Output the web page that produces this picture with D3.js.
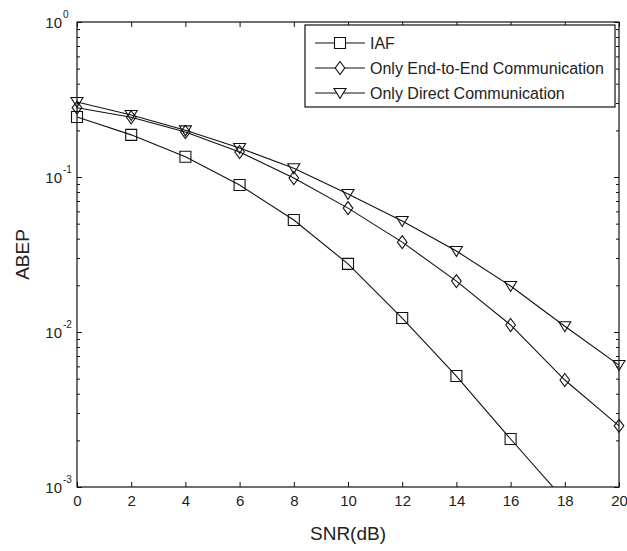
<!DOCTYPE html>
<html>
<head>
<meta charset="utf-8">
<script src="https://cdn.jsdelivr.net/npm/d3@7"></script>
<style>
  body { margin: 0; background: #fff; }
  text { font-family: "Liberation Sans", Arial, sans-serif; fill: #222; }
</style>
</head>
<body>
<div class="chart"></div>
<script>
// ABEP vs SNR, log scale, matlab-ish look

var w = 627, h = 551;

var snr = [0, 2, 4, 6, 8, 10, 12, 14, 16, 18, 20];
var iaf = [0.244, 0.187, 0.135, 0.0888, 0.0528, 0.0275, 0.0123, 0.0052, 0.00204, 0.00082, 0.0003];
var endToEnd = [0.28, 0.243, 0.195, 0.145, 0.0985, 0.063, 0.038, 0.0213, 0.0111, 0.0049, 0.00248];
var direct = [0.305, 0.251, 0.2, 0.154, 0.114, 0.0777, 0.052, 0.0333, 0.0198, 0.0109, 0.00612];
var seriesNames = ['IAF', 'Only End-to-End Communication', 'Only Direct Communication'];
var seriesMarks = ['square', 'diamond', 'triangle'];
var xTicks = [0, 2, 4, 6, 8, 10, 12, 14, 16, 18, 20];
var yDecades = [-3, -2, -1, 0];

var series = [iaf, endToEnd, direct];

var m = {left: 77, right: 619, top: 22, bottom: 487};

var x = d3.scaleLinear().domain([0, 20]).range([m.left, m.right]);
var y = d3.scaleLog().domain([1e-3, 1]).range([m.bottom, m.top]);

var svg = d3.select('.chart').append('svg')
  .attr('width', w)
  .attr('height', h);

svg.append('defs').append('clipPath').attr('id', 'plotclip')
  .append('rect')
  .attr('x', m.left).attr('y', m.top)
  .attr('width', m.right - m.left).attr('height', m.bottom - m.top);

// minor + major y ticks
var yMinor = [];
yDecades.slice(0, 3).forEach(function(d) {
  for (var k = 2; k < 10; k++) yMinor.push(k * Math.pow(10, d));
});
var yMajor = yDecades.map(function(d) { return Math.pow(10, d); });

function yAxisTicks(side) {
  var ax = side === 'left' ? d3.axisLeft(y) : d3.axisRight(y);
  var xpos = side === 'left' ? m.left : m.right;
  svg.append('g').attr('transform', 'translate(' + xpos + ',0)')
    .call(ax.tickValues(yMinor).tickSize(-3).tickSizeOuter(0).tickFormat(''))
    .call(function(g) { g.select('.domain').remove(); });
  svg.append('g').attr('transform', 'translate(' + xpos + ',0)')
    .call(ax.tickValues(yMajor).tickSize(-5).tickSizeOuter(0).tickFormat(''))
    .call(function(g) { g.select('.domain').remove(); });
}
yAxisTicks('left');
yAxisTicks('right');

// x axis bottom with labels
svg.append('g').attr('transform', 'translate(0,' + m.bottom + ')')
  .call(d3.axisBottom(x).tickValues(xTicks).tickSize(-5).tickSizeOuter(0).tickPadding(8))
  .call(function(g) {
    g.select('.domain').remove();
    g.selectAll('text').style('font-size', '15px').attr('fill', '#222')
      .style('font-family', '"Liberation Sans", Arial, sans-serif');
  });
svg.append('g').attr('transform', 'translate(0,' + m.top + ')')
  .call(d3.axisTop(x).tickValues(xTicks).tickSize(-5).tickSizeOuter(0).tickFormat(''))
  .call(function(g) { g.select('.domain').remove(); });

svg.selectAll('.tick line').attr('stroke', '#111');

// frame
svg.append('rect')
  .attr('x', m.left).attr('y', m.top)
  .attr('width', m.right - m.left).attr('height', m.bottom - m.top)
  .attr('fill', 'none').attr('stroke', '#111').attr('stroke-width', 1.2);

// y tick labels 10^n
var yl = svg.selectAll('.ylab').data(yDecades).enter().append('g').attr('class', 'ylab');
yl.append('text')
  .attr('x', 62).attr('y', function(d) { return y(Math.pow(10, d)) + 6; })
  .attr('text-anchor', 'end').style('font-size', '15px')
  .text('10');
yl.append('text')
  .attr('x', 63).attr('y', function(d) { return y(Math.pow(10, d)) - 4; })
  .style('font-size', '10px')
  .text(function(d) { return d === 0 ? '0' : '-' + (-d); });

// axis titles
svg.append('text')
  .attr('x', (m.left + m.right) / 2).attr('y', 540)
  .attr('text-anchor', 'middle').style('font-size', '19px')
  .text('SNR(dB)');
svg.append('text')
  .attr('transform', 'translate(29,' + ((m.top + m.bottom) / 2) + ') rotate(-90)')
  .attr('text-anchor', 'middle').style('font-size', '19px')
  .text('ABEP');

// markers
function markerPath(type) {
  if (type === 'square') return 'M-5.5,-5.5H5.5V5.5H-5.5Z';
  if (type === 'diamond') return 'M0,-6.5L4.8,0L0,6.5L-4.8,0Z';
  return 'M-6,-4.5H6L0,5.5Z';
}

var line = d3.line()
  .x(function(d, i) { return x(snr[i]); })
  .y(function(d) { return y(d); });

var plot = svg.append('g').attr('clip-path', 'url(#plotclip)');
var marks = svg.append('g');

series.forEach(function(vals, s) {
  plot.append('path')
    .datum(vals)
    .attr('d', line)
    .attr('fill', 'none').attr('stroke', '#111').attr('stroke-width', 1.1);
  // markers are not clipped (like matlab), but points below the axis are dropped
  var pts = vals.map(function(v, i) { return {x: snr[i], v: v}; })
    .filter(function(p) { return p.v >= 1e-3; });
  marks.selectAll('.mk' + s).data(pts).enter().append('path')
    .attr('class', 'mk' + s)
    .attr('transform', function(p) { return 'translate(' + x(p.x) + ',' + y(p.v) + ')'; })
    .attr('d', markerPath(seriesMarks[s]))
    .attr('fill', 'none').attr('stroke', '#111').attr('stroke-width', 1.1);
});

// legend
var lg = svg.append('g');
lg.append('rect')
  .attr('x', 305).attr('y', 25).attr('width', 310).attr('height', 82)
  .attr('fill', '#fff').attr('stroke', '#111').attr('stroke-width', 1.2);
var rows = lg.selectAll('.lrow').data(seriesNames).enter().append('g')
  .attr('transform', function(d, i) { return 'translate(0,' + (43 + i * 25) + ')'; });
rows.append('line')
  .attr('x1', 315).attr('x2', 365).attr('y1', 0).attr('y2', 0)
  .attr('stroke', '#111').attr('stroke-width', 1.1);
rows.append('path')
  .attr('transform', 'translate(340,0)')
  .attr('d', function(d, i) { return markerPath(seriesMarks[i]); })
  .attr('fill', '#fff').attr('stroke', '#111').attr('stroke-width', 1.1);
rows.append('text')
  .attr('x', 370).attr('y', 6).style('font-size', '16px')
  .text(function(d) { return d; });
</script>
</body>
</html>
